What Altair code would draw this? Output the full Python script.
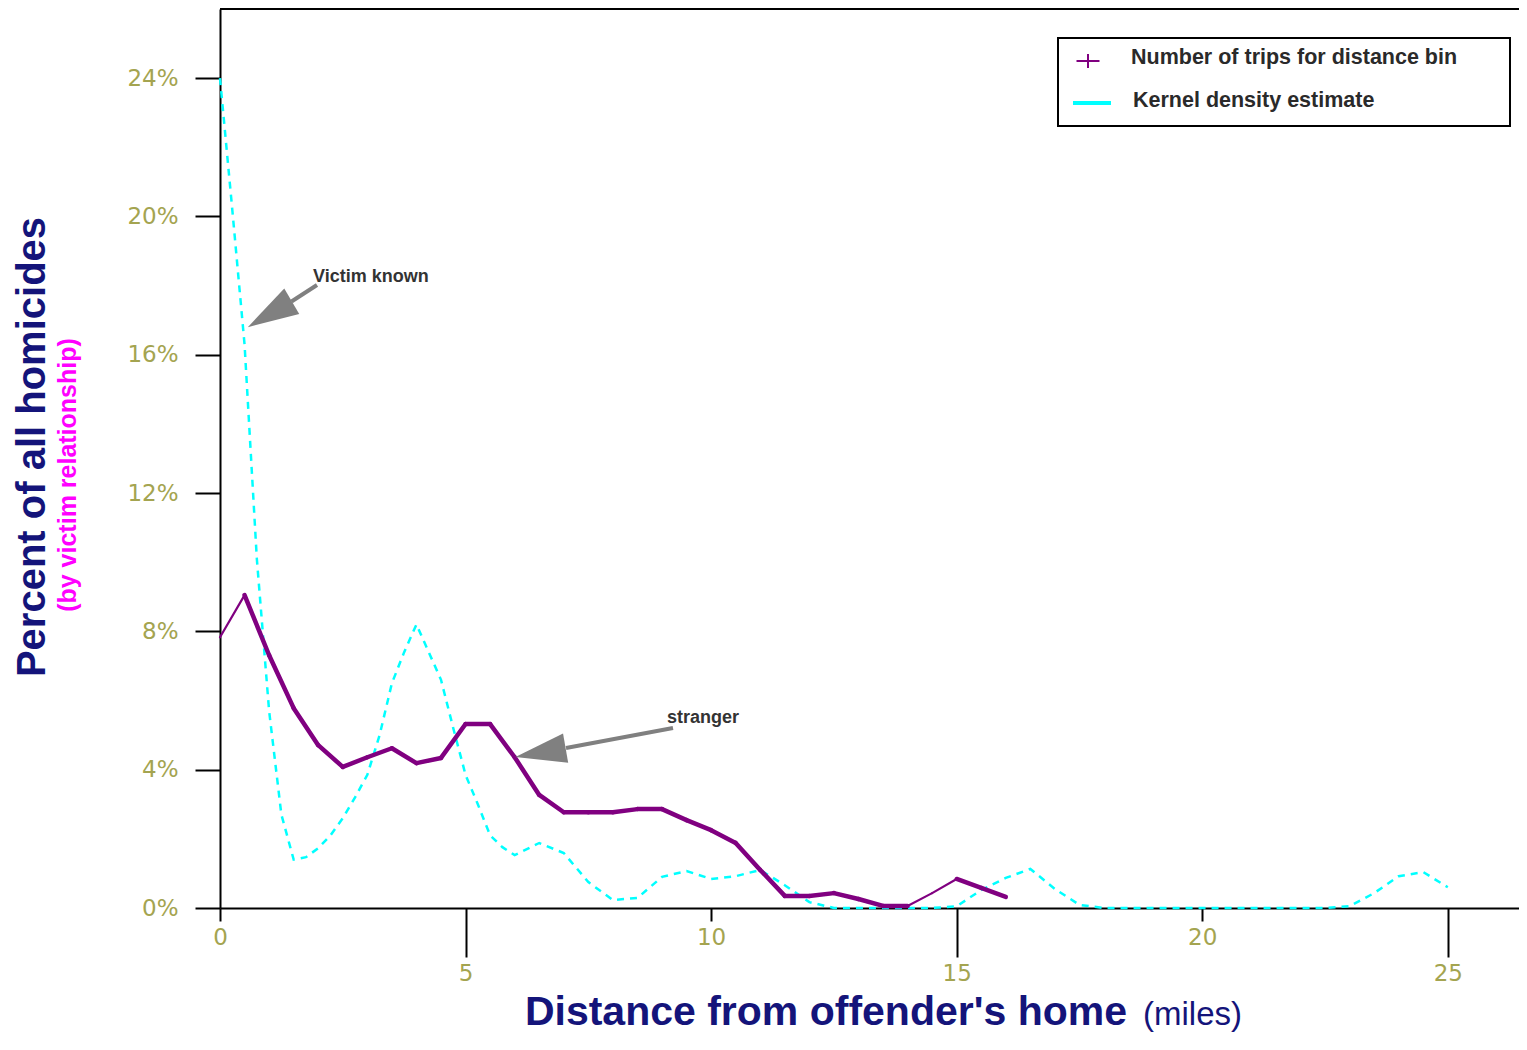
import altair as alt
import pandas as pd

# ---- data ----
stranger_miles = [0, 0.5, 1, 1.5, 2, 2.5, 3, 3.5, 4, 4.5, 5, 5.5, 6, 6.5, 7, 7.5, 8,
                  8.5, 9, 9.5, 10, 10.5, 11, 11.5, 12, 12.5, 13, 13.5, 14, 14.5, 15, 15.5, 16]
stranger_pct = [7.83, 9.05, 7.31, 5.78, 4.71, 4.08, 4.36, 4.62, 4.19, 4.34, 5.32, 5.32, 4.36,
                3.27, 2.77, 2.77, 2.77, 2.86, 2.86, 2.54, 2.25, 1.88, 1.1, 0.35, 0.35, 0.43,
                0.26, 0.06, 0.06, 0.43, 0.84, 0.58, 0.32]

kde_miles = [0, 0.25, 0.5, 0.75, 1, 1.25, 1.5, 1.75, 2, 2.25, 2.5, 2.75, 3, 3.25, 3.5, 3.75,
             4, 4.25, 4.5, 4.75, 5, 5.25, 5.5, 5.75, 6, 6.5, 7, 7.5, 8, 8.5, 9, 9.5, 10, 10.5,
             11, 11.5, 12, 12.5, 13, 13.5, 14, 14.5, 15, 15.5, 16, 16.5, 17, 17.5, 18, 18.5,
             19, 19.5, 20, 20.5, 21, 21.5, 22, 22.5, 23, 23.5, 24, 24.5, 25]
kde_pct = [24.0, 20.2, 16.3, 10.1, 5.7, 2.7, 1.4, 1.47, 1.73, 2.1, 2.6, 3.2, 3.85, 5.0, 6.5, 7.4,
           8.2, 7.4, 6.6, 5.2, 3.85, 3.0, 2.1, 1.76, 1.53, 1.88, 1.59, 0.75, 0.23, 0.29, 0.9,
           1.07, 0.84, 0.92, 1.1, 0.66, 0.17, 0.0, 0.0, 0.0, 0.0, 0.0, 0.05, 0.52, 0.87, 1.13,
           0.55, 0.09, 0.0, 0.0, 0.0, 0.0, 0.0, 0.0, 0.0, 0.0, 0.0, 0.0, 0.05, 0.43, 0.92,
           1.04, 0.6]

x_ticks = [0, 5, 10, 15, 20, 25]
y_ticks = [0, 4, 8, 12, 16, 20, 24]

legend_labels = ["Number of trips for distance bin", "Kernel density estimate"]

# ---- styles ----
PURPLE = "#800080"
CYAN = "#00ffff"
NAVY = "#14147a"
MAGENTA = "#ff00ff"
LABEL = "#a4a450"
GREY = "#808080"
W, H = 1299, 899
thin_starts = [0, 14, 14.5]

seg = pd.DataFrame({
    "x0": stranger_miles[:-1], "x1": stranger_miles[1:],
    "y0": stranger_pct[:-1], "y1": stranger_pct[1:],
})
seg["w"] = [2.2 if x in thin_starts else 4.5 for x in seg["x0"]]
kde = pd.DataFrame({"x": kde_miles, "y": kde_pct})

xs = alt.Scale(domain=[0, 26.45], nice=False, zero=False)
ys = alt.Scale(domain=[0, 26], nice=False)

xaxis = alt.Axis(values=x_ticks, title=None, grid=False, labelFont="DejaVu Sans",
                 labelFontSize=23, labelColor=LABEL, tickColor="black", tickWidth=2,
                 domainColor="black", domainWidth=2, labelAngle=0, labelFlush=False,
                 labelOverlap=False,
                 tickSize={"condition": {"test": "datum.value % 10 == 5", "value": 49},
                           "value": 13},
                 labelPadding=5)
yaxis = alt.Axis(values=y_ticks, title=None, grid=False, labelExpr="datum.value + '%'",
                 labelFont="DejaVu Sans", labelFontSize=23, labelColor=LABEL,
                 tickSize=25, tickWidth=2, tickColor="black", domainColor="black",
                 domainWidth=2, labelPadding=17)

kde_layer = alt.Chart(kde).mark_line(color=CYAN, strokeWidth=2.5, strokeDash=[7, 6]).encode(
    x=alt.X("x:Q", scale=xs, axis=xaxis),
    y=alt.Y("y:Q", scale=ys, axis=yaxis),
)

stranger_layer = alt.Chart(seg).mark_rule(color=PURPLE, strokeCap="round").encode(
    x=alt.X("x0:Q", scale=xs, axis=xaxis), x2="x1",
    y=alt.Y("y0:Q", scale=ys, axis=yaxis), y2="y1",
    strokeWidth=alt.StrokeWidth("w:Q", scale=None),
)

one = pd.DataFrame({"a": [0]})


def txt(text, x, y, **kw):
    return alt.Chart(one).mark_text(text=text, **kw).encode(x=alt.value(x), y=alt.value(y))


top_border = alt.Chart(one).mark_rule(color="black", strokeWidth=2).encode(
    x=alt.value(0), x2=alt.value(W), y=alt.value(0))

# legend box
legend_box = alt.Chart(one).mark_rect(fill="white", stroke="black", strokeWidth=2).encode(
    x=alt.value(838), x2=alt.value(1290), y=alt.value(29), y2=alt.value(117))
legend_plus = alt.Chart(one).mark_point(shape="M-1,0L1,0M0,-0.6L0,0.6", filled=False,
                                        stroke=PURPLE, strokeWidth=2, size=529,
                                        opacity=1).encode(
    x=alt.value(868), y=alt.value(52))
legend_line = alt.Chart(one).mark_rule(color=CYAN, strokeWidth=4).encode(
    x=alt.value(853), x2=alt.value(891), y=alt.value(94))
leg_font = dict(align="left", baseline="middle", font="Liberation Sans", fontSize=21.5,
                fontWeight="bold", color="#2a2a2a")
legend_t1 = txt(legend_labels[0], 911, 49, **leg_font)
legend_t2 = txt(legend_labels[1], 913, 92, **leg_font)

# annotations
arrow_shape = "M1,0L-1,-0.58L-1,0.58Z"
shaft1 = alt.Chart(one).mark_rule(color=GREY, strokeWidth=4).encode(
    x=alt.value(97), y=alt.value(276), x2=alt.value(71.5), y2=alt.value(292.5))
head1 = alt.Chart(one).mark_point(shape=arrow_shape, filled=True, color=GREY, size=2601,
                                  angle=149.6, opacity=1).encode(
    x=alt.value(49.75), y=alt.value(305.25))
shaft2 = alt.Chart(one).mark_rule(color=GREY, strokeWidth=4).encode(
    x=alt.value(453), y=alt.value(719), x2=alt.value(346), y2=alt.value(739))
head2 = alt.Chart(one).mark_point(shape=arrow_shape, filled=True, color=GREY, size=2601,
                                  angle=170, opacity=1).encode(
    x=alt.value(320.5), y=alt.value(743.5))
ann_font = dict(align="left", baseline="middle", font="Liberation Sans", fontSize=18,
                fontWeight="bold", color="#333333")
t_known = txt("Victim known", 93, 268, **ann_font)
t_stranger = txt("stranger", 447, 709, **ann_font)

# axis titles
ytitle = txt("Percent of all homicides", -187, 438, angle=270, align="center",
             baseline="middle", font="Liberation Sans", fontSize=40, fontWeight="bold",
             color=NAVY)
ysub = txt("(by victim relationship)", -152, 466, angle=270, align="center",
           baseline="middle", font="Liberation Sans", fontSize=25, fontWeight="bold",
           color=MAGENTA)
xtitle = txt("Distance from offender's home", 907, 1004, align="right", baseline="middle",
             font="Liberation Sans", fontSize=41, fontWeight="bold", color=NAVY)
xunit = txt("(miles)", 923, 1006, align="left", baseline="middle",
            font="Liberation Sans", fontSize=33, color=NAVY)

chart = alt.layer(
    kde_layer, stranger_layer, top_border,
    legend_box, legend_plus, legend_line, legend_t1, legend_t2,
    shaft1, head1, shaft2, head2, t_known, t_stranger,
    ytitle, ysub, xtitle, xunit,
).properties(
    width=W, height=H,
    autosize=alt.AutoSizeParams(type="none"),
    padding={"left": 212, "top": 1, "right": 0, "bottom": 128},
    background="white",
).configure_view(stroke=None)

chart.save("out.html", embed_options={"renderer": "svg", "actions": False})
